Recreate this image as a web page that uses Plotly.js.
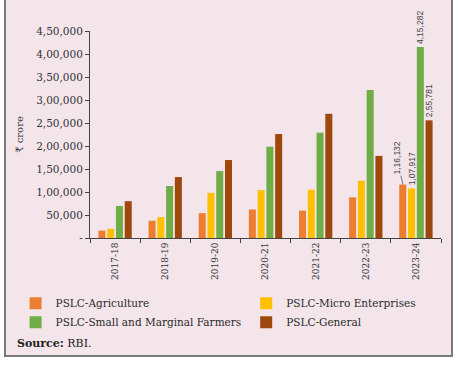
<!DOCTYPE html>
<html><head><meta charset="utf-8">
<script src="https://cdn.plot.ly/plotly-3.0.1.min.js"></script>
<style>
html,body{margin:0;padding:0;background:#fff;width:460px;height:366px;overflow:hidden}
#box{position:absolute;left:4px;top:-2px;width:445px;height:355px;border:2px solid #7a7a7a;background:#f3e5ea}
#chart{width:445px;height:355px}
</style></head><body><div id="box"><div id="chart"></div></div>
<script>
const years = ['2017-18','2018-19','2019-20','2020-21','2021-22','2022-23','2023-24'];
const agriculture = [16000, 37500, 54000, 62000, 59500, 88500, 116132];
const microEnterprises = [20000, 45500, 98000, 104000, 105000, 124500, 107917];
const smallMarginal = [69500, 113000, 145500, 198500, 229000, 321500, 415282];
const general = [80000, 132500, 169500, 226000, 270000, 178500, 255781];
const yTickVals = [0, 50000, 100000, 150000, 200000, 250000, 300000, 350000, 400000, 450000];
const yTickText = ['-', '50,000', '1,00,000', '1,50,000', '2,00,000', '2,50,000', '3,00,000', '3,50,000', '4,00,000', '4,50,000'];
const seriesNames = ['PSLC-Agriculture', 'PSLC-Micro Enterprises', 'PSLC-Small and Marginal Farmers', 'PSLC-General'];
const colors = ['#ED7D31', '#FFC000', '#70AD47', '#9E480E'];

function inr(v){
  const s = String(Math.round(v));
  if (s.length <= 3) return s;
  const last3 = s.slice(-3);
  const rest = s.slice(0, -3).replace(/\B(?=(\d{2})+(?!\d))/g, ',');
  return rest + ',' + last3;
}
function lastLabel(vals, show){ return vals.map((v,i)=> (show && i===vals.length-1) ? inr(v) : ''); }

const allSeries = [agriculture, microEnterprises, smallMarginal, general];
const legendOf = ['legend', 'legend2', 'legend', 'legend2'];
const traces = allSeries.map((vals, k) => ({
  type: 'bar', x: years, y: vals, name: seriesNames[k],
  marker: {color: colors[k]},
  text: lastLabel(vals, k !== 0),
  textposition: 'outside', textangle: -90, constraintext: 'none', cliponaxis: false,
  textfont: {family: 'Liberation Sans, Arial, sans-serif', size: 8.5, color: '#444'},
  legend: legendOf[k], hoverinfo: 'skip'
}));

const lastIdx = years.length - 1;
const layout = {
  width: 445, height: 355,
  margin: {l: 84, r: 10, t: 31, b: 117},
  paper_bgcolor: '#f3e5ea', plot_bgcolor: '#f3e5ea',
  barmode: 'group', bargap: 0.3, bargroupgap: 0.2,
  showlegend: true,
  font: {family: 'DejaVu Serif, serif', color: '#333'},
  xaxis: {
    type: 'category', tickangle: -90, tickson: 'boundaries',
    ticks: 'outside', ticklen: 4, tickcolor: '#444',
    showline: true, linecolor: '#444', linewidth: 1,
    showgrid: false, zeroline: false,
    tickfont: {family: 'DejaVu Serif, serif', size: 9, color: '#333'},
    range: [-0.5, years.length - 0.5]
  },
  yaxis: {
    range: [0, 450000], tickvals: yTickVals, ticktext: yTickText,
    ticks: 'outside', ticklen: 4, tickcolor: '#444',
    showline: true, linecolor: '#444', linewidth: 1,
    showgrid: false, zeroline: false,
    tickfont: {family: 'DejaVu Serif, serif', size: 10.5, color: '#333'},
    title: {text: '₹ crore', font: {family: 'DejaVu Serif, serif', size: 10, color: '#333'}, standoff: 10}
  },
  legend: {
    orientation: 'v', x: -0.212, y: -0.245, xanchor: 'left', yanchor: 'top',
    bgcolor: 'rgba(0,0,0,0)', font: {family: 'DejaVu Serif, serif', size: 10.5, color: '#2a2a2a'},
    itemclick: false, tracegroupgap: 0
  },
  legend2: {
    orientation: 'v', x: 0.445, y: -0.245, xanchor: 'left', yanchor: 'top',
    bgcolor: 'rgba(0,0,0,0)', font: {family: 'DejaVu Serif, serif', size: 10.5, color: '#2a2a2a'},
    itemclick: false, tracegroupgap: 0
  },
  annotations: [
    {
      x: years[lastIdx], y: agriculture[lastIdx], xref: 'x', yref: 'y',
      xshift: -13, text: inr(agriculture[lastIdx]), textangle: -90,
      showarrow: true, arrowhead: 0, arrowwidth: 0.8, arrowcolor: '#555',
      ax: -6, ay: -27, font: {family: 'Liberation Sans, Arial, sans-serif', size: 8.5, color: '#444'}
    },
    {
      xref: 'paper', yref: 'paper', x: -0.214, y: -0.512, xanchor: 'left', yanchor: 'middle',
      text: '<b>Source:</b> RBI.', showarrow: false,
      font: {family: 'DejaVu Serif, serif', size: 11, color: '#222'}
    }
  ]
};

Plotly.newPlot('chart', traces, layout, {staticPlot: true, displayModeBar: false});
</script></body></html>
